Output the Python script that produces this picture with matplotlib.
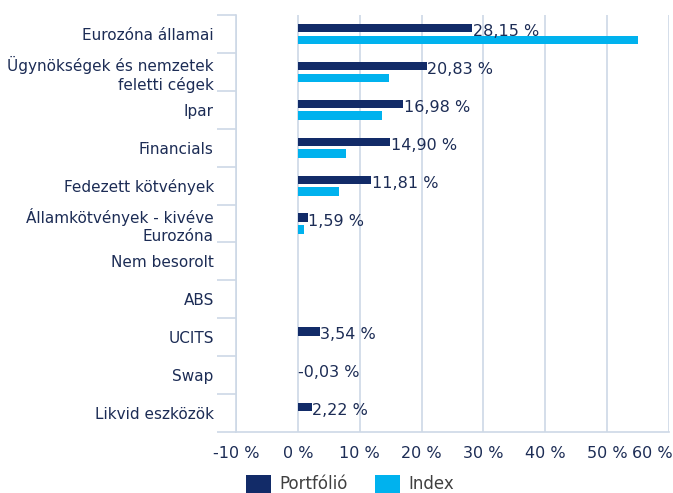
import matplotlib
matplotlib.use("Agg")
import matplotlib.pyplot as plt
import matplotlib.transforms as mtrans
import numpy as np

# adatok
kategoriak = ["Eurozóna államai", "Ügynökségek és nemzetek\nfeletti cégek", "Ipar",
              "Financials", "Fedezett kötvények", "Államkötvények - kivéve\nEurozóna",
              "Nem besorolt", "ABS", "UCITS", "Swap", "Likvid eszközök"]
portfolio = [28.15, 20.83, 16.98, 14.90, 11.81, 1.59, 0.0, 0.0, 3.54, -0.03, 2.22]
index = [55.0, 14.8, 13.6, 7.8, 6.6, 1.0, 0.0, 0.0, 0.0, 0.0, 0.0]
cimkek = ["28,15 %", "20,83 %", "16,98 %", "14,90 %", "11,81 %", "1,59 %",
          None, None, "3,54 %", "-0,03 %", "2,22 %"]
x_ticks = [-10, 0, 10, 20, 30, 40, 50, 60]

sotet = "#122b68"
vilagos = "#00b2ee"
racs = "#cdd8e6"
szoveg = "#1c2c55"

fig = plt.figure(figsize=(6.73, 4.93), dpi=100)
ax = fig.add_axes([236 / 673, 1 - 432 / 493, 433 / 673, 417 / 493])

y = np.arange(len(kategoriak))
h = 0.22
ax.barh(y - 0.155, portfolio, height=h, color=sotet, label="Portfólió", zorder=3)
ax.barh(y + 0.155, index, height=h, color=vilagos, label="Index", zorder=3)

for yi, v, c in zip(y, portfolio, cimkek):
    if c is None:
        continue
    ax.text(max(v, 0) + 0.1, yi - 0.06, c, va="center", ha="left",
            fontsize=11.5, color=szoveg, zorder=4)

ax.set_xlim(-10, 60)
ax.set_ylim(len(kategoriak) - 0.5, -0.5)
ax.set_xticks(x_ticks)
ax.set_xticklabels([f"{t} %" for t in x_ticks], fontsize=11.5, color=szoveg)
ax.set_yticks(y)
ax.set_yticklabels(kategoriak, fontsize=11, color=szoveg)
ax.set_yticks(np.arange(len(kategoriak) + 1) - 0.5, minor=True)
ax.tick_params(axis="y", which="major", length=0, pad=16)
ax.tick_params(axis="y", which="minor", length=14, color=racs, width=1.2)
ax.tick_params(axis="x", length=0, pad=10)

# az utolsó címke balra tolva, hogy kiférjen
utolso = ax.get_xticklabels()[-1]
utolso.set_transform(utolso.get_transform() +
                     mtrans.ScaledTranslation(-17 / 100, 0, fig.dpi_scale_trans))

ax.grid(axis="x", color=racs, linewidth=1.2, zorder=0)
for s in ["top", "right"]:
    ax.spines[s].set_visible(False)
ax.spines["left"].set_color(racs)
ax.spines["left"].set_linewidth(1.2)
ax.spines["bottom"].set_color(racs)
ax.spines["bottom"].set_linewidth(1.2)

fig.legend(loc="center", bbox_to_anchor=(350 / 673, 1 - 484 / 493), ncol=2,
           frameon=False, fontsize=12, handlelength=1.5, handleheight=1.3,
           handletextpad=0.5, columnspacing=1.6, labelcolor="#404040",
           borderpad=0.2)

fig.savefig("out.png", dpi=100)
